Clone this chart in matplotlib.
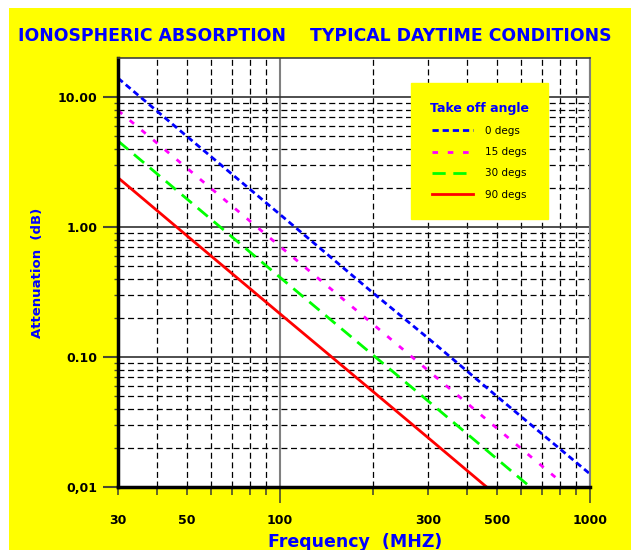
import matplotlib
matplotlib.use('Agg')
import matplotlib.pyplot as plt
from matplotlib.ticker import FixedLocator, FixedFormatter
from matplotlib.patches import Rectangle

plt.rcParams['font.family'] = ['DejaVu Sans']
plt.rcParams['font.weight'] = 'bold'
plt.rcParams['lines.scale_dashes'] = False

# ---------------- data ----------------
freq_0 = [30, 50, 100, 200, 300, 500, 1000]
att_0 = [14.0, 5.0, 1.25, 0.31, 0.14, 0.050, 0.0126]

freq_15 = [30, 50, 100, 200, 300, 500, 800]
att_15 = [7.9, 2.85, 0.71, 0.178, 0.079, 0.0284, 0.0111]

freq_30 = [30, 50, 100, 200, 300, 500, 700]
att_30 = [4.6, 1.65, 0.41, 0.103, 0.046, 0.0165, 0.0084]

freq_90 = [30, 50, 100, 200, 300, 500]
att_90 = [2.4, 0.86, 0.215, 0.054, 0.024, 0.0086]

series_labels = ['0 degs', '15 degs', '30 degs', '90 degs']

x_major = [100, 1000]
x_major_labels = ['100', '1000']
x_minor = [30, 40, 50, 60, 70, 80, 90, 200, 300, 400, 500, 600, 700, 800, 900]
x_minor_labels = ['30', '', '50', '', '', '', '', '', '300', '', '500', '', '', '', '']

y_major = [0.01, 0.1, 1, 10]
y_major_labels = ['0,01', '0.10', '1.00', '10.00']
y_minor = [m * d for d in (0.01, 0.1, 1) for m in range(2, 10)]

title_text = 'IONOSPHERIC ABSORPTION    TYPICAL DAYTIME CONDITIONS'
legend_title = 'Take off angle'

# ---------------- figure ----------------
W, H = 631, 550
fig = plt.figure(figsize=(W / 100, H / 100), dpi=100, facecolor='white')
fig.patches.append(Rectangle((9 / W, 0), 1, (H - 8) / H, transform=fig.transFigure,
                             facecolor='#ffff00', edgecolor='none', zorder=-10))

ax = fig.add_axes([118 / W, (H - 487) / H, 472 / W, 429 / H])
ax.set_facecolor('white')
ax.set_xscale('log')
ax.set_yscale('log')
ax.set_xlim(30, 1000)
ax.set_ylim(0.01, 20)

blue, pink, green, red = '#0000ff', '#ff00ff', '#00ff00', '#ff0000'
l0, = ax.plot(freq_0, att_0, color=blue, lw=2.0, ls=(0, (4.5, 2.8)), label=series_labels[0])
l1, = ax.plot(freq_15, att_15, color=pink, lw=2.0, ls=(0, (4.0, 7.0)), label=series_labels[1])
l2, = ax.plot(freq_30, att_30, color=green, lw=2.0, ls=(0, (9.5, 5.5)), label=series_labels[2])
l3, = ax.plot(freq_90, att_90, color=red, lw=2.0, ls='-', label=series_labels[3])

# ticks
ax.xaxis.set_major_locator(FixedLocator(x_major))
ax.xaxis.set_major_formatter(FixedFormatter(x_major_labels))
ax.xaxis.set_minor_locator(FixedLocator(x_minor))
ax.xaxis.set_minor_formatter(FixedFormatter(x_minor_labels))
ax.yaxis.set_major_locator(FixedLocator(y_major))
ax.yaxis.set_major_formatter(FixedFormatter(y_major_labels))
ax.yaxis.set_minor_locator(FixedLocator(y_minor))
ax.yaxis.set_minor_formatter(FixedFormatter([''] * len(y_minor)))

tick_col = '#4a4a30'
ax.tick_params(axis='x', which='major', length=11.5, width=1.2, color=tick_col, pad=7.6,
               labelsize=9, labelcolor='black')
ax.tick_params(axis='x', which='minor', length=5.8, width=1.2, color=tick_col, pad=13.3,
               labelsize=9, labelcolor='black')
ax.tick_params(axis='y', which='major', length=10.8, width=1.5, color=tick_col, pad=4.0,
               labelsize=9, labelcolor='black')
ax.tick_params(axis='y', which='minor', length=3.0, width=1.0, color=tick_col)

# grid
ax.xaxis.grid(True, which='major', color='#808080', lw=1.5, ls='-')
ax.yaxis.grid(True, which='major', color='#303030', lw=1.2, ls='-')
ax.grid(True, which='minor', color='black', lw=0.9, ls=(0, (4.3, 2.6)))
ax.set_axisbelow(True)

# spines
ax.spines['left'].set_linewidth(2.5)
ax.spines['left'].set_color('black')
ax.spines['bottom'].set_linewidth(2.5)
ax.spines['bottom'].set_color('black')
ax.spines['top'].set_linewidth(1.2)
ax.spines['top'].set_color('#404040')
ax.spines['right'].set_linewidth(1.5)
ax.spines['right'].set_color('#808080')

# labels
ax.set_xlabel('Frequency  (MHZ)', color=blue, fontsize=12.5, fontweight='bold')
ax.xaxis.label.set_va('center')
ax.xaxis.set_label_coords((355.5 - 118) / 472, (487 - 542) / 429)
ax.set_ylabel('Attenuation  (dB)', color=blue, fontsize=9.5, fontweight='bold')
ax.yaxis.label.set_va('center')
ax.yaxis.set_label_coords((38 - 118) / 472, 0.5)

fig.text(315 / W, 1 - 36 / H, title_text, ha='center', va='center',
         fontsize=12.4, color=blue, fontweight='bold')

leg = ax.legend(handles=[l0, l1, l2, l3], title=legend_title,
                loc='upper left', bbox_to_anchor=(411 / W, 1 - 83 / H),
                bbox_transform=fig.transFigure, borderaxespad=0,
                borderpad=1.8, prop={'size': 7.5, 'weight': 'normal'},
                title_fontproperties={'size': 9, 'weight': 'bold'},
                handlelength=4.0, handletextpad=1.15, labelspacing=1.08,
                facecolor='#ffff00', edgecolor='#ffff00', framealpha=1, fancybox=False)
leg.get_title().set_color(blue)

fig.savefig('out.png', dpi=100, facecolor='white')
